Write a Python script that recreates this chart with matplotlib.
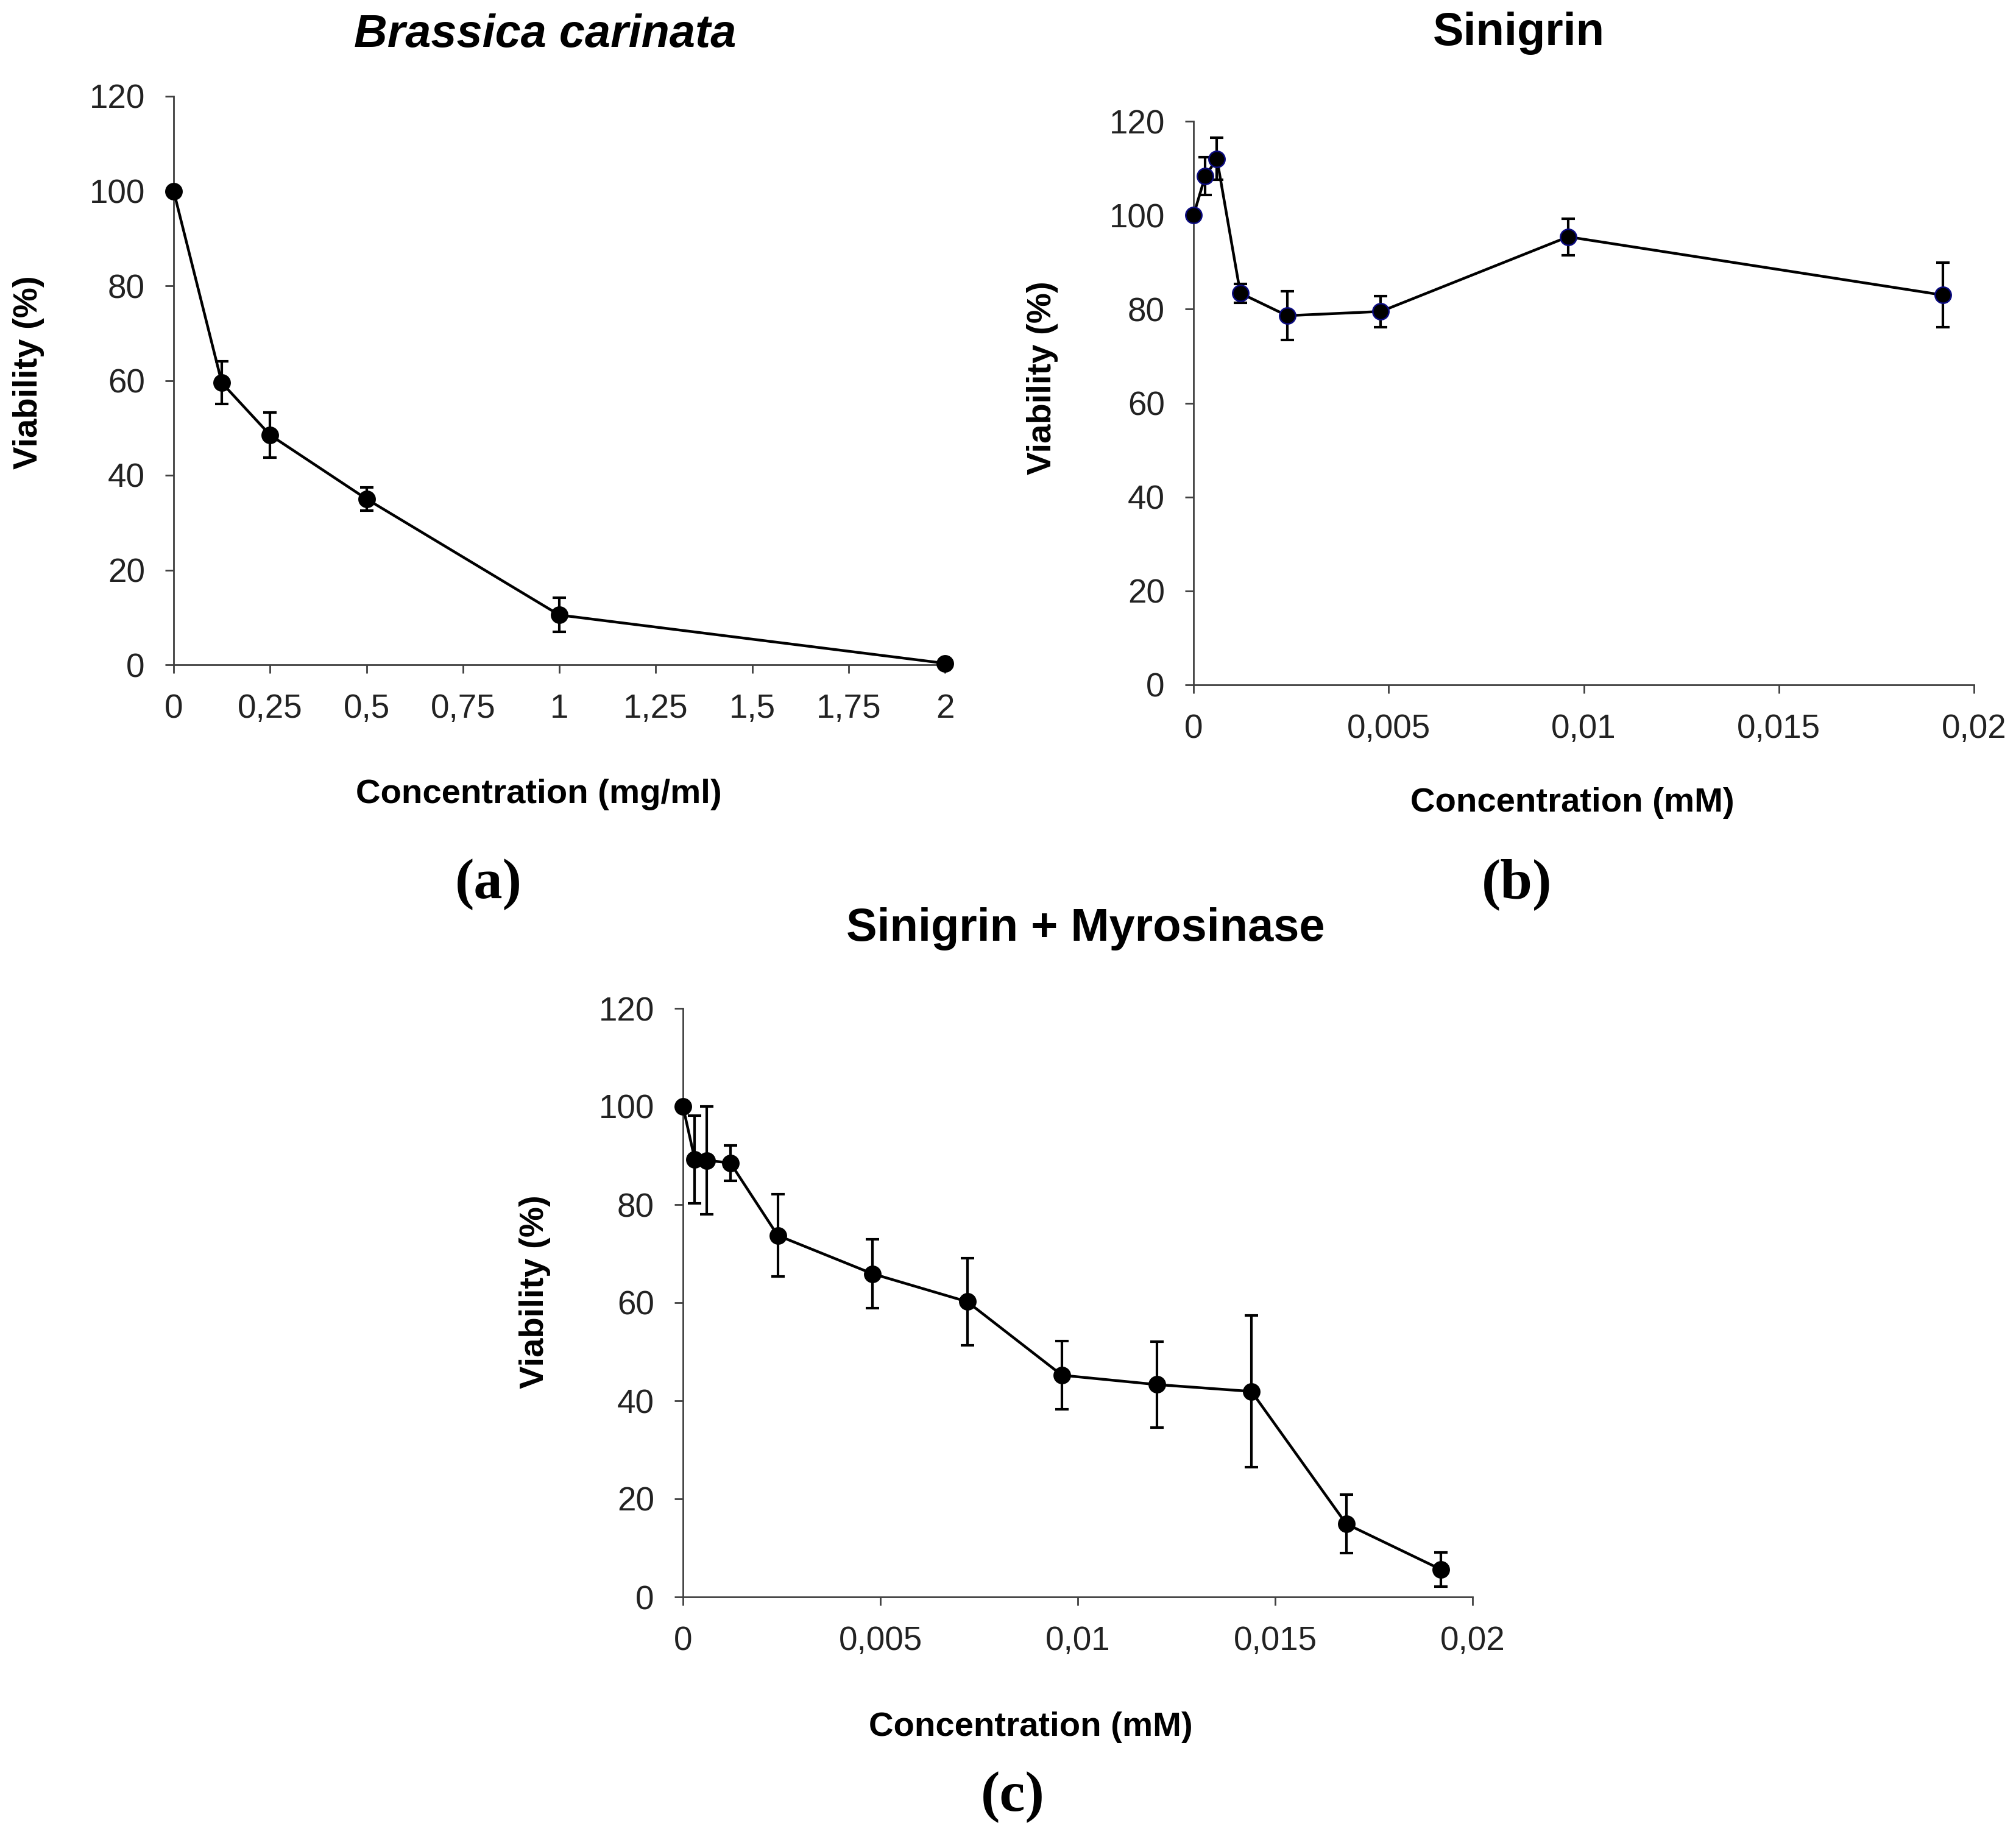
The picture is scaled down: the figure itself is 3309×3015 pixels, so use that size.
import matplotlib.pyplot as plt

# --- data ---
conc_a = [0, 0.125, 0.25, 0.5, 1, 2]
viab_a = [100, 59.5, 48.5, 35.0, 10.5, 0.3]
err_a = [0, 4.5, 4.8, 2.4, 3.6, 0]

conc_b = [0, 0.0003, 0.0006, 0.0012, 0.0024, 0.0048, 0.0096, 0.0192]
viab_b = [100, 108.3, 112.0, 83.4, 78.6, 79.5, 95.4, 83.0]
err_b = [0, 4.0, 4.5, 2.0, 5.2, 3.3, 3.9, 6.9]

conc_c = [0, 0.0003, 0.0006, 0.0012, 0.0024, 0.0048, 0.0072, 0.0096,
          0.012, 0.0144, 0.0168, 0.0192]
viab_c = [100, 89.2, 89.0, 88.5, 73.7, 65.9, 60.2, 45.2, 43.3, 41.9, 14.9, 5.6]
err_c = [0, 8.9, 11.0, 3.6, 8.4, 7.0, 8.9, 7.0, 8.8, 15.5, 6.0, 3.5]

ticks_a = [0, 0.25, 0.5, 0.75, 1, 1.25, 1.5, 1.75, 2]
ticklabels_a = ['0', '0,25', '0,5', '0,75', '1', '1,25', '1,5', '1,75', '2']
ticks_mm = [0, 0.005, 0.01, 0.015, 0.02]
ticklabels_mm = ['0', '0,005', '0,01', '0,015', '0,02']
yticks = [0, 20, 40, 60, 80, 100, 120]

W, H = 3309, 3015
SANS = 'Liberation Sans'
SERIF = 'Liberation Serif'

fig = plt.figure(figsize=(W / 100, H / 100), dpi=100)


def rect(x0, x1, ytop, ybot):
    # pixel box -> figure fraction
    return [x0 / W, 1 - ybot / H, (x1 - x0) / W, (ybot - ytop) / H]


def fx(x):
    return x / W


def fy(y):
    return 1 - y / H


def panel(box, x, y, e, xticks, xlabels, xlab, title, title_xy, xlab_xy,
          ylab_xy, tag, tag_xy, xmax, edge='black', italic=False):
    ax = fig.add_axes(rect(*box))
    ax.errorbar(x, y, yerr=e, fmt='none', ecolor='black', elinewidth=3.0,
                capsize=8, capthick=3.0, clip_on=False, zorder=2)
    ax.plot(x, y, '-', color='black', lw=3.2, marker='o', ms=19,
            mfc='black', mec=edge, mew=1.8, clip_on=False, zorder=3)
    ax.set_xlim(0, xmax)
    ax.set_ylim(0, 120)
    ax.set_xticks(xticks)
    ax.set_xticklabels(xlabels)
    ax.set_yticks(yticks)
    for s in ['top', 'right']:
        ax.spines[s].set_visible(False)
    for s in ['left', 'bottom']:
        ax.spines[s].set_linewidth(2)
        ax.spines[s].set_color('#404040')
    ax.tick_params(direction='out', length=10, width=2, color='#404040',
                   labelsize=39.5, pad=24)
    for lbl in ax.get_xticklabels() + ax.get_yticklabels():
        lbl.set_family(SANS)
        lbl.set_color('#222222')

    ax.set_xlabel(xlab, fontsize=40.5, fontweight='bold', family=SANS,
                  va='center', ha='center')
    ax.xaxis.set_label_coords(fx(xlab_xy[0]), fy(xlab_xy[1]),
                              transform=fig.transFigure)
    ax.set_ylabel('Viability (%)', fontsize=40.5, fontweight='bold',
                  family=SANS, va='center', ha='center')
    ax.yaxis.set_label_coords(fx(ylab_xy[0]), fy(ylab_xy[1]),
                              transform=fig.transFigure)

    fig.text(fx(title_xy[0]), fy(title_xy[1]), title, fontsize=54.5,
             fontweight='bold', style='italic' if italic else 'normal',
             family=SANS, ha='center', va='center')
    fig.text(fx(tag_xy[0]), fy(tag_xy[1]), tag, fontsize=68,
             fontweight='bold', family=SERIF, ha='center', va='center')
    return ax


panel((285, 1551, 158, 1091), conc_a, viab_a, err_a, ticks_a, ticklabels_a,
      'Concentration (mg/ml)', 'Brassica carinata', (895, 57), (884, 1304),
      (47, 611), '(a)', (802, 1452), 2, italic=True)

panel((1959, 3240, 199, 1124), conc_b, viab_b, err_b, ticks_mm,
      ticklabels_mm, 'Concentration (mM)', 'Sinigrin', (2493, 55),
      (2581, 1318), (1711, 620), '(b)', (2490, 1452), 0.02, edge='#0a0a80')

panel((1121, 2417, 1655, 2621), conc_c, viab_c, err_c, ticks_mm,
      ticklabels_mm, 'Concentration (mM)', 'Sinigrin + Myrosinase',
      (1782, 1525), (1692, 2835), (878, 2120), '(c)', (1662, 2950), 0.02)

plt.savefig('out.png', dpi=100)
